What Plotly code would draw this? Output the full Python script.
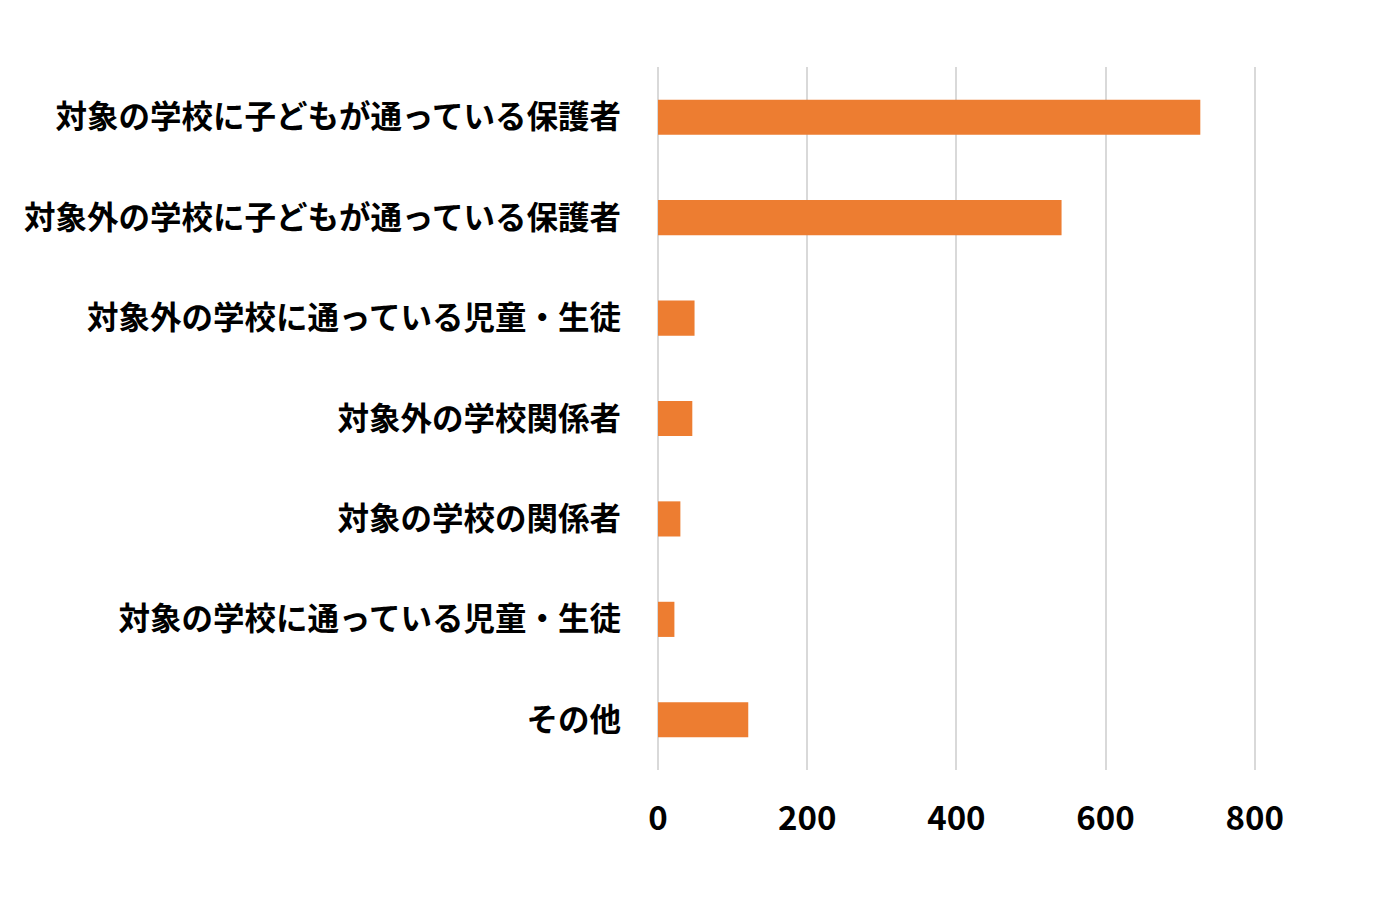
import plotly.graph_objects as go

categories = [
    "対象の学校に子どもが通っている保護者",
    "対象外の学校に子どもが通っている保護者",
    "対象外の学校に通っている児童・生徒",
    "対象外の学校関係者",
    "対象の学校の関係者",
    "対象の学校に通っている児童・生徒",
    "その他",
]
values = [727, 541, 49, 46, 30, 22, 121]
tick_vals = [0, 200, 400, 600, 800]
tick_text = ["0", "200", "400", "600", "800"]

font_family = "Noto Sans CJK JP"

fig = go.Figure(
    go.Bar(
        x=values,
        y=categories,
        orientation="h",
        marker=dict(color="#ED7D31", line=dict(width=0)),
        width=0.35,
    )
)

fig.update_layout(
    width=1380,
    height=920,
    margin=dict(l=658, r=123, t=67, b=150),
    paper_bgcolor="white",
    plot_bgcolor="white",
    showlegend=False,
    font=dict(family=font_family, color="#000000", size=31, weight="bold"),
)

fig.update_xaxes(
    range=[0, 803],
    tickvals=tick_vals,
    ticktext=tick_text,
    showgrid=True,
    gridcolor="#D9D9D9",
    gridwidth=2,
    zeroline=True,
    zerolinecolor="#D9D9D9",
    zerolinewidth=2,
    showline=False,
    ticks="",
    ticklabelstandoff=26,
    tickfont=dict(family=font_family, size=33, color="#000000", weight="bold"),
    fixedrange=True,
)

fig.update_yaxes(
    categoryorder="array",
    categoryarray=categories[::-1],
    showgrid=False,
    zeroline=False,
    showline=False,
    ticks="",
    ticklabelstandoff=36,
    tickfont=dict(family=font_family, size=31.5, color="#000000", weight="bold"),
    fixedrange=True,
)

fig.write_html("out.html")
